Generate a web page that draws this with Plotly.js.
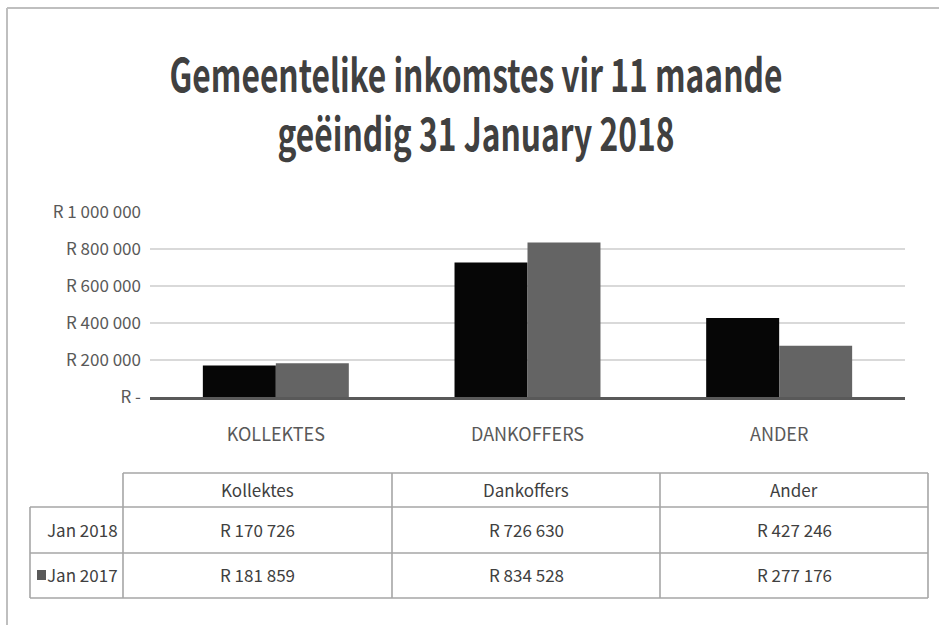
<!DOCTYPE html>
<html>
<head>
<meta charset="utf-8">
<script src="https://cdn.plot.ly/plotly-3.0.1.min.js"></script>
<style>html,body{margin:0;padding:0;background:#fff}#chart{width:939px;height:625px}</style>
</head>
<body>
<div id="chart"></div>
<script>
// ---- data ----
const categories = ["KOLLEKTES", "DANKOFFERS", "ANDER"];
const tableHeaders = ["Kollektes", "Dankoffers", "Ander"];
const seriesNames = ["Jan 2018", "Jan 2017"];
const jan2018 = [170726, 726630, 427246];
const jan2017 = [181859, 834528, 277176];
const yTickVals = [0, 200000, 400000, 600000, 800000, 1000000];
const yTickText = ["R -", "R 200 000", "R 400 000", "R 600 000", "R 800 000", "R 1 000 000"];
const titleText = "Gemeentelike inkomstes vir 11 maande<br>geëindig 31 January 2018";

const FONT = "'Noto Sans CJK JP', 'DejaVu Sans Condensed', sans-serif";
const W = 939, H = 625;
const px = x => x / W;
const py = y => 1 - y / H;
const fmt = v => "R " + String(v).replace(/\B(?=(\d{3})+(?!\d))/g, " ");

const traces = [
  {type: "bar", name: seriesNames[0], x: categories, y: jan2018,
   marker: {color: "#060606", line: {width: 0}}, hoverinfo: "y"},
  {type: "bar", name: seriesNames[1], x: categories, y: jan2017,
   marker: {color: "#646464", line: {width: 0}}, hoverinfo: "y"}
];

const shapes = [];
const annotations = [];
const lineCol = "#a6a6a6";
function hline(x0, x1, y) { shapes.push({type: "line", xref: "paper", yref: "paper", x0: px(x0), x1: px(x1), y0: py(y), y1: py(y), line: {color: lineCol, width: 1.6}}); }
function vline(x, y0, y1) { shapes.push({type: "line", xref: "paper", yref: "paper", x0: px(x), x1: px(x), y0: py(y0), y1: py(y1), line: {color: lineCol, width: 1.6}}); }

// outer chart border (left and top)
shapes.push({type: "line", xref: "paper", yref: "paper", x0: px(7), x1: px(7), y0: py(8), y1: 0, line: {color: "#bfbfbf", width: 2}});
shapes.push({type: "line", xref: "paper", yref: "paper", x0: px(7), x1: 1, y0: py(8), y1: py(8), line: {color: "#bfbfbf", width: 2}});

// data table geometry
const colEdges = [123, 392, 660, 928];
const rowEdges = [473, 507, 553, 598];
const leftX = 30;
hline(colEdges[0], colEdges[3], rowEdges[0]);
hline(leftX, colEdges[3], rowEdges[1]);
hline(leftX, colEdges[3], rowEdges[2]);
hline(leftX, colEdges[3], rowEdges[3]);
colEdges.forEach(x => vline(x, rowEdges[0], rowEdges[3]));
vline(leftX, rowEdges[1], rowEdges[3]);
// legend key for Jan 2017 row
shapes.push({type: "rect", xref: "paper", yref: "paper", x0: px(37), x1: px(46), y0: py(580), y1: py(570), line: {width: 0}, fillcolor: "#595959"});

const txtFont = {family: FONT, size: 17, color: "#404040"};
for (let c = 0; c < 3; c++) {
  const cx = (colEdges[c] + colEdges[c + 1]) / 2;
  annotations.push({xref: "paper", yref: "paper", x: px(cx), y: py((rowEdges[0] + rowEdges[1]) / 2 - 1), text: tableHeaders[c], showarrow: false, font: txtFont, xanchor: "center", yanchor: "middle"});
  annotations.push({xref: "paper", yref: "paper", x: px(cx), y: py((rowEdges[1] + rowEdges[2]) / 2 - 1), text: fmt(jan2018[c]), showarrow: false, font: txtFont, xanchor: "center", yanchor: "middle"});
  annotations.push({xref: "paper", yref: "paper", x: px(cx), y: py((rowEdges[2] + rowEdges[3]) / 2 - 1), text: fmt(jan2017[c]), showarrow: false, font: txtFont, xanchor: "center", yanchor: "middle"});
}
annotations.push({xref: "paper", yref: "paper", x: px(120), y: py((rowEdges[1] + rowEdges[2]) / 2 - 1), text: seriesNames[0], showarrow: false, font: txtFont, xanchor: "right", yanchor: "middle"});
annotations.push({xref: "paper", yref: "paper", x: px(120), y: py((rowEdges[2] + rowEdges[3]) / 2 - 1), text: seriesNames[1], showarrow: false, font: txtFont, xanchor: "right", yanchor: "middle"});

const layout = {
  width: W, height: H,
  margin: {l: 0, r: 0, t: 0, b: 0},
  paper_bgcolor: "#ffffff", plot_bgcolor: "#ffffff",
  showlegend: false,
  barmode: "group",
  bargap: 0.42, bargroupgap: 0,
  title: {
    text: titleText,
    font: {family: FONT, size: 34, color: "#404040", weight: "bold"},
    x: 0.507, xanchor: "center", y: py(60), yanchor: "top"
  },
  xaxis: {
    domain: [px(150), px(905)],
    showgrid: false, zeroline: false,
    showline: true, linecolor: "#595959", linewidth: 3,
    ticks: "", ticklabelstandoff: 19,
    tickfont: {family: FONT, size: 18, color: "#595959"},
    fixedrange: true
  },
  yaxis: {
    domain: [py(397), py(212)],
    range: [0, 1000000],
    tickvals: yTickVals, ticktext: yTickText,
    showgrid: true, gridcolor: "#d9d9d9", gridwidth: 1.5,
    zeroline: false, showline: false, ticks: "",
    ticklabelstandoff: 8,
    tickfont: {family: FONT, size: 17, color: "#595959"},
    fixedrange: true
  },
  shapes: shapes,
  annotations: annotations
};

Plotly.newPlot("chart", traces, layout, {displayModeBar: false, staticPlot: true}).then(gd => {
  // the reference title uses a tall, condensed face: stretch the real title text to the same box
  const t = gd.querySelector(".gtitle");
  if (!t) return;
  const bb = t.getBBox();
  const sx = 613 / bb.width;
  const sy = 59 / (1.3 * 34);
  const cx = bb.x + bb.width / 2, cy = bb.y + bb.height / 2;
  t.setAttribute("transform", `translate(476,102) scale(${sx},${sy}) translate(${-cx},${-cy})`);
});
</script>
</body>
</html>
